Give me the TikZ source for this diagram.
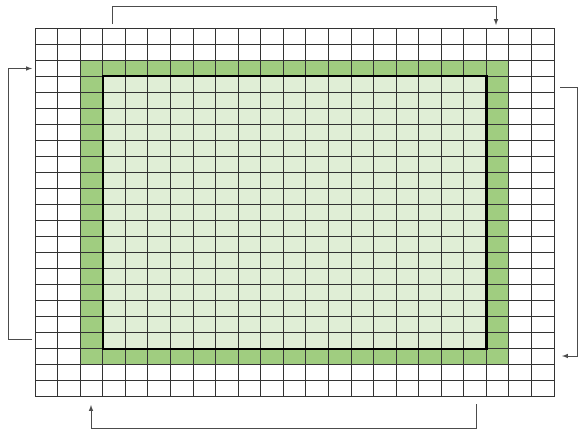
\documentclass[tikz,border=0pt]{standalone}
\usetikzlibrary{calc}
\usetikzlibrary{arrows}
\definecolor{ringgreen}{RGB}{160,205,128}
\definecolor{innergreen}{RGB}{224,238,214}

\begin{document}
\begin{tikzpicture}[x=1pt,y=-1pt,
  gridline/.style={line width=0.95pt, black!80},
  link/.style={line width=1pt, black!70, -latex}]

%---------------------------------------
% Grid size
%---------------------------------------
\def\cw{22.57}   % cell width
\def\ch{16.04}   % cell height
\def\xo{35}
\def\yo{28}
\def\ncell{23}

\useasboundingbox (0,0) rectangle (579,432);

% Halo ring and inner domain
\fill[ringgreen] ({\xo+2*\cw},{\yo+2*\ch}) rectangle ({\xo+21*\cw},{\yo+21*\ch});
\fill[innergreen] ({\xo+3*\cw},{\yo+3*\ch}) rectangle ({\xo+20*\cw},{\yo+20*\ch});

% Cells
\foreach \i in {0,...,\ncell} {
  \draw[gridline] ({\xo+\i*\cw},\yo) -- ({\xo+\i*\cw},{\yo+\ncell*\ch});
  \draw[gridline] (\xo,{\yo+\i*\ch}) -- ({\xo+\ncell*\cw},{\yo+\i*\ch});
}

% Domain border
\draw[line width=2.2pt] ({\xo+3*\cw},{\yo+3*\ch}) rectangle ({\xo+20*\cw},{\yo+20*\ch});

%---------------------------------------
% Periodic copies
%---------------------------------------
\coordinate (topA) at (112,24);
\coordinate (topB) at (496,25);
\coordinate (leftA) at (32,339);
\coordinate (leftB) at (32,68.5);
\coordinate (rightA) at (560,87);
\coordinate (rightB) at (562,356);
\coordinate (botA) at (476,404);
\coordinate (botB) at (91,405);

\draw[link] (topA) -- (112,6) -| (topB);
\draw[link] (leftA) -- (8,339) |- (leftB);
\draw[link] (rightA) -- (577,87) |- (rightB);
\draw[link] (botA) -- (476,428) -| (botB);

\end{tikzpicture}
\end{document}
